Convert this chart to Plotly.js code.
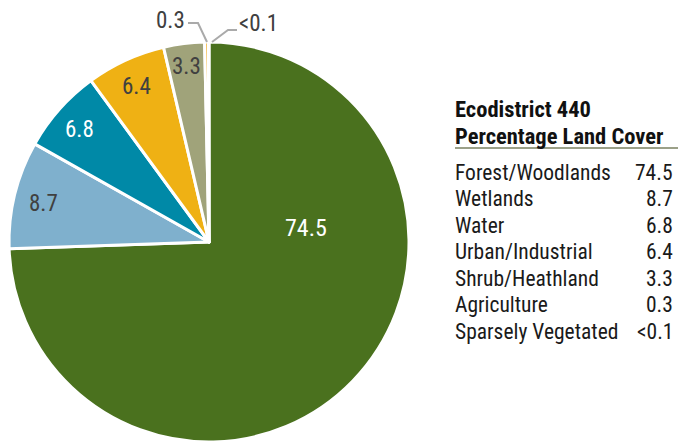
<!DOCTYPE html>
<html><head><meta charset="utf-8">
<script src="https://cdn.plot.ly/plotly-3.0.1.min.js"></script>
<style>html,body{margin:0;padding:0;background:#fff}#chart{width:686px;height:443px}</style>
</head><body><div id="chart"></div>
<script>
const categories = ["Forest/Woodlands","Wetlands","Water","Urban/Industrial","Shrub/Heathland","Agriculture","Sparsely Vegetated"];
const values = [74.5, 8.7, 6.8, 6.4, 3.3, 0.3, 0.05];
const valueLabels = ["74.5","8.7","6.8","6.4","3.3","0.3","<0.1"];
const colors = ["#4a711e","#7fb0cd","#0089a7","#efb114","#a0a37a","#f0a30a","#e8c060"];
const labelColors = ["#ffffff","#404040","#ffffff","#404040","#404040","#404040","#404040"];
// pixel centres of the value labels on the pie (layout only)
const labelPos = [[306,228],[43,203],[79,129],[136,86],[186,67],[170,21],[258,23]];
const labelSizes = [24,23,23,23,23,23,23];
const FONT = "'Roboto Condensed', Roboto, 'Liberation Sans', sans-serif";

const trace = {
  type: "pie",
  labels: categories,
  values: values,
  textinfo: "none",
  sort: false,
  direction: "clockwise",
  rotation: 0,
  marker: {colors: colors, line: {color: "#ffffff", width: 3}},
  hoverinfo: "label+value",
  showlegend: false,
  domain: {x: [9/686, 409/686], y: [1/443, 401/443]}
};

const W = 686, H = 443;
const px = x => x/W, py = y => 1 - y/H;
const annotations = [];
const shapes = [];

valueLabels.forEach((t,i)=>{
  annotations.push({xref:"paper",yref:"paper",x:px(labelPos[i][0]),y:py(labelPos[i][1]),
    xanchor:"center",yanchor:"middle",showarrow:false,text:t,
    font:{family:FONT,size:labelSizes[i],color:labelColors[i]}});
});
// leader lines for tiny slices
shapes.push({type:"path",xref:"paper",yref:"paper",
  path:`M ${px(188)} ${py(23)} L ${px(198)} ${py(23)} L ${px(207)} ${py(42)}`,line:{color:"#aaaaaa",width:2}});
shapes.push({type:"path",xref:"paper",yref:"paper",
  path:`M ${px(237)} ${py(30)} L ${px(228)} ${py(30)} L ${px(212)} ${py(42)}`,line:{color:"#aaaaaa",width:2}});

// legend table
annotations.push({xref:"paper",yref:"paper",x:px(453),y:py(109),xanchor:"left",yanchor:"middle",showarrow:false,
  text:"<b>Ecodistrict 440</b>",font:{family:FONT,size:22.5,color:"#111"}});
annotations.push({xref:"paper",yref:"paper",x:px(453),y:py(136),xanchor:"left",yanchor:"middle",showarrow:false,
  text:"<b>Percentage Land Cover</b>",font:{family:FONT,size:22.5,color:"#111"}});
shapes.push({type:"line",xref:"paper",yref:"paper",x0:px(455),x1:px(678),y0:py(148),y1:py(148),line:{color:"#7a8060",width:1.5}});
const rowY0 = 172, rowStep = 26.5;
categories.forEach((c,i)=>{
  const y = py(rowY0+i*rowStep);
  annotations.push({xref:"paper",yref:"paper",x:px(453),y:y,xanchor:"left",yanchor:"middle",showarrow:false,
    text:c,font:{family:FONT,size:21.5,color:"#1a1a1a"}});
  annotations.push({xref:"paper",yref:"paper",x:px(675),y:y,xanchor:"right",yanchor:"middle",showarrow:false,
    text:valueLabels[i],font:{family:FONT,size:21.5,color:"#1a1a1a"}});
});

const layout = {
  width: W, height: H,
  margin: {l:0,r:0,t:0,b:0},
  paper_bgcolor: "#ffffff",
  annotations: annotations,
  shapes: shapes,
  font: {family: FONT}
};
Plotly.newPlot("chart", [trace], layout, {displayModeBar:false, staticPlot:true});
</script></body></html>
